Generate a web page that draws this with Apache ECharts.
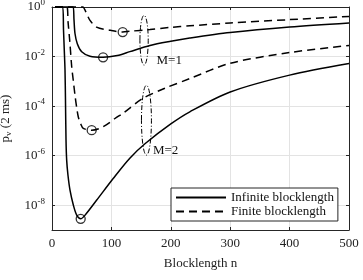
<!DOCTYPE html>
<html><head><meta charset="utf-8">
<script src="https://cdn.jsdelivr.net/npm/echarts@6/dist/echarts.min.js"></script>
<style>html,body{margin:0;padding:0;background:#fff}#c{width:363px;height:280px}</style>
</head><body><div id="c"></div><script>
// ---- data (blocklength n, probability p_v) ----
const nInfM1 = [5, 35.5, 37, 38.7, 42.6, 50, 64, 86, 110, 131, 165, 200, 232, 300, 400, 500];
const pInfM1 = [1, 1, 0.316, 0.0851, 0.0331, 0.0155, 0.0102, 0.00933, 0.011, 0.0158, 0.0282, 0.0417, 0.0562, 0.0933, 0.155, 0.226];
const nFinM1 = [5, 52, 55, 58, 64, 75, 98, 119, 131, 165, 200, 232, 300, 400, 500];
const pFinM1 = [1, 1, 0.794, 0.562, 0.288, 0.155, 0.115, 0.0977, 0.105, 0.123, 0.151, 0.174, 0.226, 0.309, 0.417];
const nInfM2 = [5, 18, 19.4, 20.7, 21.9, 22.7, 23.6, 24.7, 26.9, 30.3, 35.9, 41.6, 48.3, 55, 75, 103, 131, 157, 200, 232, 300, 400, 500];
const pInfM2 = [1, 1, 0.115, 0.0178, 2.82e-3, 1.74e-4, 4.27e-6, 6.61e-7, 1.62e-7, 4.07e-8, 1.02e-8, 3.98e-9, 2.82e-9, 3.80e-9, 1.58e-8, 1.20e-7, 7.94e-7, 3.09e-6, 1.91e-5, 5.89e-5, 3.72e-4, 1.78e-3, 5.25e-3];
const nFinM2 = [5, 25, 27, 30, 33.2, 36, 38.7, 41.5, 44.3, 48, 52.7, 66.8, 80, 92, 106, 120, 153, 190, 232, 300, 400, 500];
const pFinM2 = [1, 1, 0.251, 0.0398, 3.8e-3, 1e-3, 2.75e-4, 8.91e-5, 3.63e-5, 2.0e-5, 1.26e-5, 1.07e-5, 1.26e-5, 1.78e-5, 3.16e-5, 5.25e-5, 2.04e-4, 5.25e-4, 1.29e-3, 5.37e-3, 0.0145, 0.0282];
const minN = [86, 119, 48.3, 66.8];
const minP = [0.00933, 0.0977, 2.82e-9, 1.07e-5];
const xTicks = [0, 100, 200, 300, 400, 500];
const yTickExp = [-8, -6, -4, -2, 0];
const legendNames = ['Infinite blocklength', 'Finite blocklength'];
const groupLabels = ['M=1', 'M=2'];
// annotation anchors (data coords)
const ellN = [155, 159];
const ellTopP = [0.46, 6.9e-4];
const ellBotP = [4.5e-3, 1.05e-6];
const ellHalfN = [7, 8.4];
const labN = [176, 170];
const labP = [7.1e-3, 1.66e-6];

const FONT = 'Liberation Serif';
const AX = '#262626';
const GRID = '#e3e3e3';
const pairs = (ns, ps) => ns.map((n, i) => [n, Math.log10(ps[i])]);

const chart = echarts.init(document.getElementById('c'), null, {renderer: 'canvas'});
const lineSeries = (name, ns, ps, dashed) => ({
  type: 'line', name, data: pairs(ns, ps), symbol: 'none', clip: false,
  smooth: 0.3,
  lineStyle: {color: '#000', width: 1.5, type: dashed ? [8, 5] : 'solid'},
  itemStyle: {color: '#000'}
});
chart.setOption({
  animation: false,
  grid: {left: 52, right: 14, top: 7, bottom: 50, containLabel: false, outerBoundsMode: 'none'},
  legend: {
    data: legendNames, orient: 'vertical', left: 171, top: 188,
    itemWidth: 50, itemHeight: 14, itemGap: 1, padding: [3, 4, 3, 4],
    borderColor: AX, borderWidth: 1, backgroundColor: '#fff',
    itemStyle: {opacity: 0, color: 'rgba(0,0,0,0)', borderColor: 'rgba(0,0,0,0)', borderWidth: 0},
    textStyle: {fontFamily: FONT, fontSize: 13, color: '#111'}
  },
  xAxis: [{
    type: 'value', min: xTicks[0], max: xTicks[xTicks.length - 1], interval: 100, position: 'bottom',
    axisLine: {show: true, onZero: false, lineStyle: {color: AX}},
    axisTick: {show: true, inside: true, length: 3, lineStyle: {color: AX}},
    axisLabel: {margin: 7, fontFamily: FONT, fontSize: 13, color: '#222'},
    splitLine: {show: true, lineStyle: {color: GRID}},
    name: 'Blocklength n', nameLocation: 'middle', nameGap: 27,
    nameTextStyle: {fontFamily: FONT, fontSize: 13, color: '#222'}
  }, {
    type: 'value', min: xTicks[0], max: xTicks[xTicks.length - 1], interval: 100, position: 'top',
    axisLine: {show: true, onZero: false, lineStyle: {color: AX}},
    axisTick: {show: true, inside: true, length: 3, lineStyle: {color: AX}},
    axisLabel: {show: false}, splitLine: {show: false}
  }],
  yAxis: [{
    type: 'value', min: -9, max: 0, interval: 1, position: 'left',
    axisLine: {show: true, onZero: false, lineStyle: {color: AX}},
    axisTick: {show: true, inside: true, length: 3, customValues: yTickExp, lineStyle: {color: AX}},
    axisLabel: {
      customValues: yTickExp, margin: 7,
      formatter: v => (Math.round(v) % 2 !== 0) ? '' : '{b|10}{s|' + Math.round(v) + '}',
      rich: {
        b: {fontFamily: FONT, fontSize: 13, color: '#222'},
        s: {fontFamily: FONT, fontSize: 9, color: '#222', verticalAlign: 'bottom', padding: [0, 0, 8, 0]}
      }
    },
    splitLine: {show: true, lineStyle: {color: GRID}},
    name: '{p|p}{v|v}{p| (2 ms)}', nameLocation: 'middle', nameGap: 30, nameRotate: 90,
    nameTextStyle: {
      rich: {
        p: {fontFamily: FONT, fontSize: 13, color: '#222'},
        v: {fontFamily: FONT, fontSize: 9, color: '#222', verticalAlign: 'top', padding: [7, 0, 0, 0]}
      }
    }
  }, {
    type: 'value', min: -9, max: 0, interval: 1, position: 'right',
    axisLine: {show: true, onZero: false, lineStyle: {color: AX}},
    axisTick: {show: true, inside: true, length: 3, customValues: yTickExp, lineStyle: {color: AX}},
    axisLabel: {show: false}, splitLine: {show: false}
  }],
  series: [
    lineSeries(legendNames[0], nInfM1, pInfM1, false),
    lineSeries(legendNames[1], nFinM1, pFinM1, true),
    lineSeries(legendNames[0], nInfM2, pInfM2, false),
    lineSeries(legendNames[1], nFinM2, pFinM2, true),
    {
      type: 'scatter', name: 'minima', data: pairs(minN, minP), symbol: 'circle', symbolSize: 9,
      itemStyle: {color: 'rgba(0,0,0,0)', borderColor: '#000', borderWidth: 1.3}, z: 5
    }
  ]
});

const px = (n, p) => chart.convertToPixel({xAxisIndex: 0, yAxisIndex: 0}, [n, Math.log10(p)]);
const graphics = [];
for (let i = 0; i < ellN.length; i++) {
  const t = px(ellN[i], ellTopP[i]);
  const b = px(ellN[i], ellBotP[i]);
  const r = px(ellN[i] + ellHalfN[i], ellTopP[i]);
  graphics.push({
    type: 'ellipse', shape: {cx: t[0], cy: (t[1] + b[1]) / 2, rx: r[0] - t[0], ry: (b[1] - t[1]) / 2},
    style: {fill: 'none', stroke: '#000', lineWidth: 1, lineDash: [5, 2, 1, 2]}, z: 10
  });
  const l = px(labN[i], labP[i]);
  graphics.push({
    type: 'text', x: l[0], y: l[1],
    style: {text: groupLabels[i], font: '13px "' + FONT + '"', fill: '#111', textVerticalAlign: 'middle', textAlign: 'left'}, z: 10
  });
}
chart.setOption({graphic: graphics});
</script></body></html>
